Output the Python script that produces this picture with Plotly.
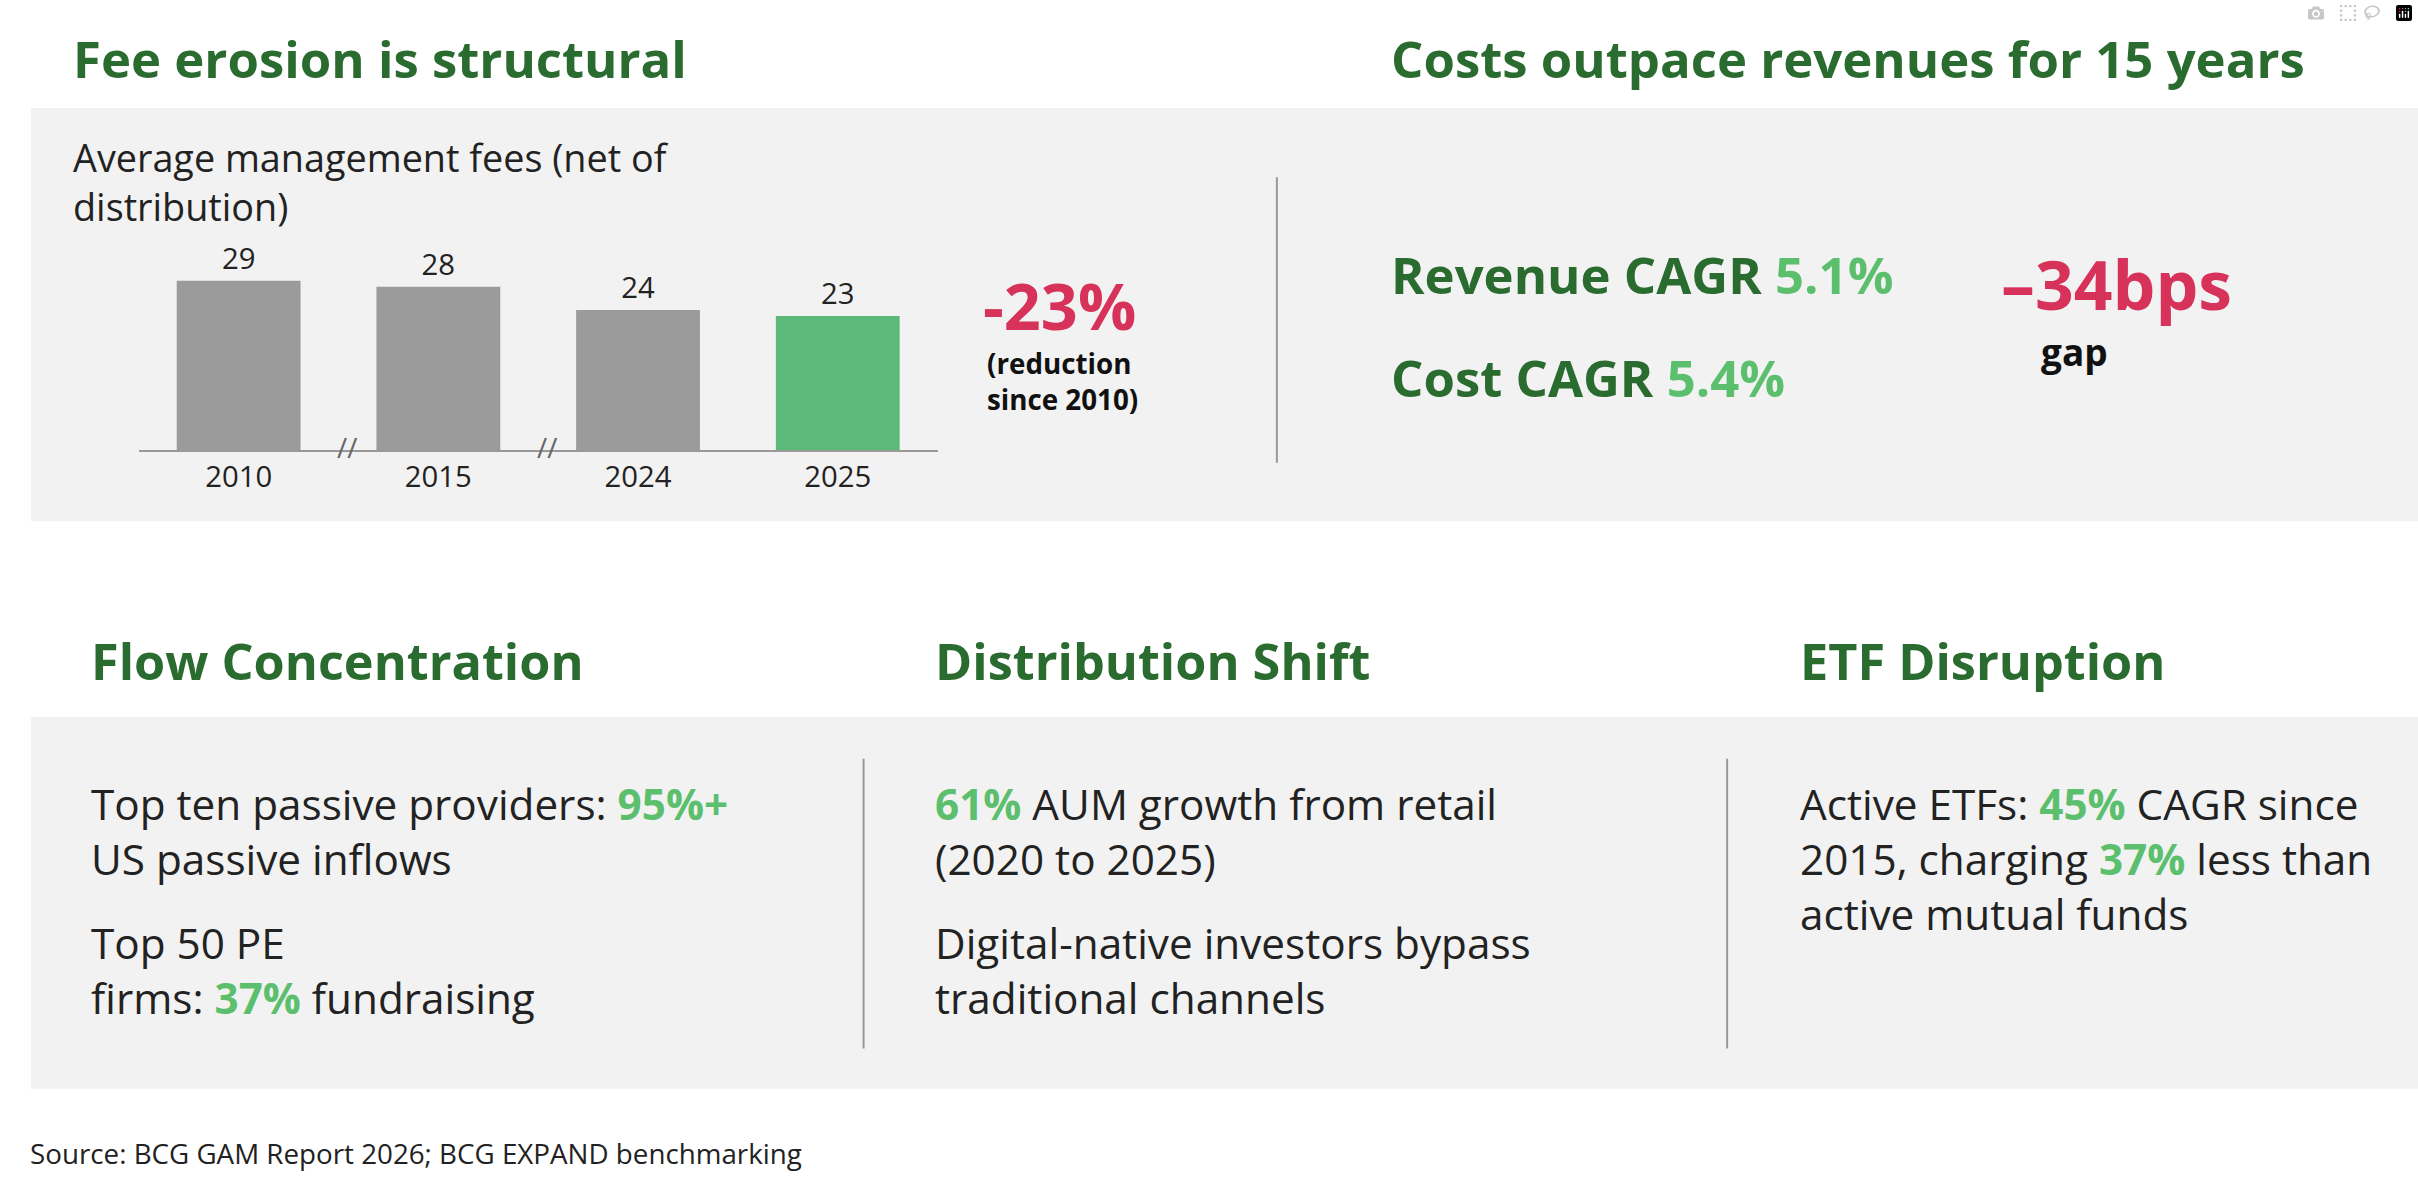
import plotly.graph_objects as go

years = ["2010", "2015", "2024", "2025"]
fees = [29, 28, 24, 23]
bar_colors = ["#9b9b9b", "#9b9b9b", "#9b9b9b", "#5cb978"]

W, H = 2418, 1182
S = W / 1568.0
DG = "#2a6b2f"; LG = "#5cbf6e"; RED = "#d6325a"; FONT = "Open Sans"

def px(x): return x / 1568.0
def py(y): return 1 - y / (H / S)

fig = go.Figure()
fig.add_trace(go.Bar(x=years, y=fees, marker_color=bar_colors, marker_line_width=0,
                     text=[str(v) for v in fees], textposition="outside",
                     textfont=dict(size=19*S, color="#222", family=FONT), cliponaxis=False, width=0.62))

shapes = []
ann = []
def rect(x0, y0, x1, y1):
    shapes.append(dict(type="rect", xref="paper", yref="paper", x0=px(x0), x1=px(x1), y0=py(y1), y1=py(y0),
                       fillcolor="#f2f2f2", line_width=0, layer="below"))
def vline(x, y0, y1):
    shapes.append(dict(type="line", xref="paper", yref="paper", x0=px(x), x1=px(x), y0=py(y0), y1=py(y1),
                       line=dict(color="#999", width=2)))
def text(x, y, t, size, color="#222", bold=False, anchor="left", valign="middle"):
    if bold: t = "<b>" + t + "</b>"
    ann.append(dict(xref="paper", yref="paper", x=px(x), y=py(y), text=t, showarrow=False,
                    xanchor=anchor, yanchor=valign, align=anchor if anchor != "center" else "center",
                    font=dict(size=size*S, color=color, family=FONT)))

rect(20, 70, 1568, 338)
rect(20, 465, 1568, 706)
vline(828, 115, 300)
vline(560, 492, 680)
vline(1120, 492, 680)

text(46, 38, "Fee erosion is structural", 33, DG, True)
text(901, 38, "Costs outpace revenues for 15 years", 33, DG, True)
text(46, 118, "Average management fees (net of<br>distribution)", 24.5, "#222")
text(225, 290, "//", 18, "#666", anchor="center")
text(355, 290, "//", 18, "#666", anchor="center")
text(636, 198, "-23%", 42, RED, True)
text(639, 247, "(reduction<br>since 2010)", 18, "#111", True)
text(901, 178, f"Revenue CAGR <span style='color:{LG}'>5.1%</span>", 33, DG, True)
text(901, 245, f"Cost CAGR <span style='color:{LG}'>5.4%</span>", 33, DG, True)
text(1296, 184, "\u201334bps", 44, RED, True)
text(1322, 228, "gap", 24, "#111", True)

text(58, 428, "Flow Concentration", 32.7, DG, True)
text(605, 428, "Distribution Shift", 32.7, DG, True)
text(1166, 428, "ETF Disruption", 32.7, DG, True)

g = lambda s: f"<b><span style='color:{LG}'>{s}</span></b>"
text(58, 539, f"Top ten passive providers: {g('95%+')}<br>US passive inflows", 27.4)
text(58, 629, f"Top 50 PE<br>firms: {g('37%')} fundraising", 27.4)
text(605, 539, f"{g('61%')} AUM growth from retail<br>(2020 to 2025)", 27.4)
text(605, 629, "Digital-native investors bypass<br>traditional channels", 27.4)
text(1166, 557, f"Active ETFs: {g('45%')} CAGR since<br>2015, charging {g('37%')} less than<br>active mutual funds", 27.4)
text(18, 748, "Source: BCG GAM Report 2026; BCG EXPAND benchmarking", 18, "#222")

base, top = 292, 155.6
fig.update_layout(
    width=W, height=H, margin=dict(l=0, r=0, t=0, b=0), paper_bgcolor="white", plot_bgcolor="rgba(0,0,0,0)",
    showlegend=False, shapes=shapes, annotations=ann,
    xaxis=dict(domain=[px(90), px(608)], range=[-0.5, 3.5], showline=True, linecolor="#999", linewidth=2,
               ticks="", tickfont=dict(size=19*S, color="#222", family=FONT), showgrid=False, fixedrange=True),
    yaxis=dict(domain=[py(base), py(top)], range=[0, 36], visible=False, fixedrange=True),
)
fig.write_html("out.html", post_script="document.body.style.margin='0';document.body.style.overflow='hidden';")
